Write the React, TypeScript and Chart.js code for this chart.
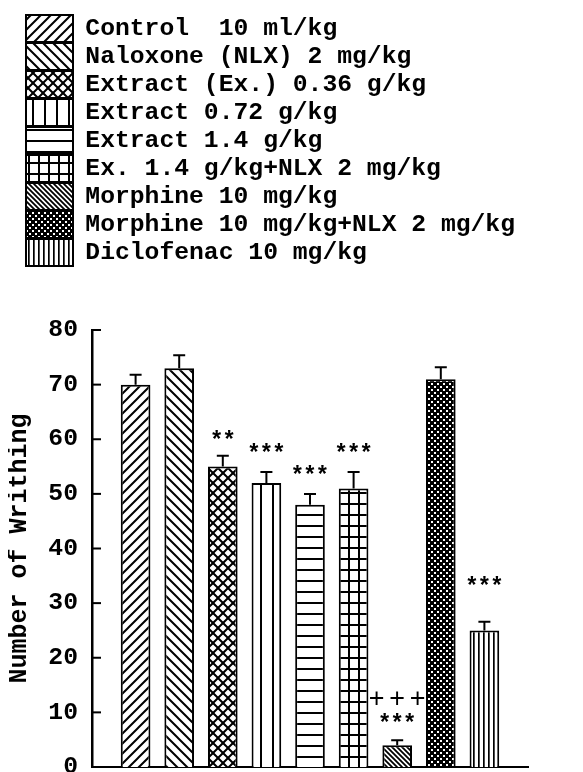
import React, { useEffect, useRef } from 'react';
import { Chart, registerables } from 'chart.js';

Chart.register(...registerables);

const categories = [
  'Control  10 ml/kg',
  'Naloxone (NLX) 2 mg/kg',
  'Extract (Ex.) 0.36 g/kg',
  'Extract 0.72 g/kg',
  'Extract 1.4 g/kg',
  'Ex. 1.4 g/kg+NLX 2 mg/kg',
  'Morphine 10 mg/kg',
  'Morphine 10 mg/kg+NLX 2 mg/kg',
  'Diclofenac 10 mg/kg',
];
const meanWrithing = [70, 73, 55, 52, 48, 51, 4, 71, 25];
const semWrithing = [1.8, 2.4, 2, 2, 2, 3, 0.9, 2.2, 1.6];
const starMarks = ['', '', '**', '***', '***', '***', '***', '', '***'];
const starLevels = [null, null, 60.5, 58, 54, 58, 8.6, null, 33.6];
const plusMarks = ['', '', '', '', '', '', '+++', '', ''];
const plusLevels = [null, null, null, null, null, null, 12.6, null, null];
const yMin = 0;
const yMax = 80;
const yStep = 10;
const yTitle = 'Number of Writhing';
const patternKinds = ['fwd', 'back', 'cross', 'vert', 'horiz', 'grid', 'denseBack', 'dots', 'denseVert'];

const FONT = "'Liberation Mono', 'DejaVu Sans Mono', monospace";

function makeTile(kind: string): HTMLCanvasElement {
  const c = document.createElement('canvas');
  let w = 10, h = 10;
  if (kind === 'vert') { w = 12; h = 12; }
  if (kind === 'horiz') { w = 11; h = 11; }
  if (kind === 'grid') { w = 10; h = 11; }
  if (kind === 'denseBack') { w = 5; h = 5; }
  if (kind === 'dots') { w = 6; h = 6; }
  if (kind === 'denseVert') { w = 5; h = 5; }
  c.width = w; c.height = h;
  const g = c.getContext('2d')!;
  g.fillStyle = '#fff';
  g.fillRect(0, 0, w, h);
  g.strokeStyle = '#000';
  g.lineWidth = 2;
  const fwd = () => {
    g.beginPath();
    g.moveTo(0, h); g.lineTo(w, 0);
    g.moveTo(-1, 1); g.lineTo(1, -1);
    g.moveTo(w - 1, h + 1); g.lineTo(w + 1, h - 1);
    g.stroke();
  };
  const back = () => {
    g.beginPath();
    g.moveTo(0, 0); g.lineTo(w, h);
    g.moveTo(-1, h - 1); g.lineTo(1, h + 1);
    g.moveTo(w - 1, -1); g.lineTo(w + 1, 1);
    g.stroke();
  };
  switch (kind) {
    case 'fwd': fwd(); break;
    case 'back': back(); break;
    case 'cross': fwd(); back(); break;
    case 'vert':
      g.fillStyle = '#000'; g.fillRect(0, 0, 2, h); break;
    case 'horiz':
      g.fillStyle = '#000'; g.fillRect(0, 0, w, 2); break;
    case 'grid':
      g.fillStyle = '#000'; g.fillRect(0, 0, 2, h); g.fillRect(0, 0, w, 2); break;
    case 'denseBack':
      g.lineWidth = 1.8; back(); break;
    case 'dots':
      g.fillStyle = '#000'; g.fillRect(0, 0, w, h);
      g.fillStyle = '#fff';
      g.fillRect(0, 0, 2, 2);
      g.fillRect(3, 3, 2, 2);
      break;
    case 'denseVert':
      g.fillStyle = '#000'; g.fillRect(0, 0, 1.7, h); break;
  }
  return c;
}

const errorBarPlugin = {
  id: 'errorBars',
  afterDatasetsDraw(chart: any) {
    const { ctx } = chart;
    const y = chart.scales.y;
    ctx.save();
    ctx.strokeStyle = '#000';
    ctx.lineWidth = 2;
    chart.data.datasets.forEach((ds: any, i: number) => {
      const el = chart.getDatasetMeta(i).data[0];
      if (!el) return;
      const top = y.getPixelForValue(meanWrithing[i] + semWrithing[i]);
      ctx.beginPath();
      ctx.moveTo(el.x, el.y);
      ctx.lineTo(el.x, top);
      ctx.moveTo(el.x - 6, top);
      ctx.lineTo(el.x + 6, top);
      ctx.stroke();
    });
    ctx.restore();
  },
};

function drawSpaced(ctx: CanvasRenderingContext2D, text: string, cx: number, baseline: number, gap: number) {
  const chars = text.split('');
  chars.forEach((ch, k) => {
    const dx = (k - (chars.length - 1) / 2) * gap;
    ctx.fillText(ch, cx + dx, baseline);
  });
}

const annotationPlugin = {
  id: 'annotations',
  afterDatasetsDraw(chart: any) {
    const { ctx } = chart;
    const y = chart.scales.y;
    ctx.save();
    ctx.fillStyle = '#000';
    ctx.textAlign = 'center';
    ctx.textBaseline = 'alphabetic';
    chart.data.datasets.forEach((ds: any, i: number) => {
      const el = chart.getDatasetMeta(i).data[0];
      if (!el) return;
      if (starMarks[i] && starLevels[i] != null) {
        ctx.font = `bold 23px ${FONT}`;
        drawSpaced(ctx, starMarks[i], el.x, y.getPixelForValue(starLevels[i] as number) + 11, 12.5);
      }
      if (plusMarks[i] && plusLevels[i] != null) {
        ctx.font = `normal 27px ${FONT}`;
        drawSpaced(ctx, plusMarks[i], el.x, y.getPixelForValue(plusLevels[i] as number) + 9, 20.5);
      }
    });
    ctx.restore();
  },
};

const innerTickPlugin = {
  id: 'innerTicks',
  afterDraw(chart: any) {
    const { ctx, chartArea } = chart;
    const y = chart.scales.y;
    ctx.save();
    ctx.strokeStyle = '#000';
    ctx.lineWidth = 2;
    y.ticks.forEach((t: any) => {
      const py = y.getPixelForValue(t.value);
      ctx.beginPath();
      ctx.moveTo(chartArea.left, py);
      ctx.lineTo(chartArea.left + 9, py);
      ctx.stroke();
    });
    ctx.restore();
  },
};

export default function App() {
  const ref = useRef<HTMLCanvasElement>(null);
  useEffect(() => {
    const canvas = ref.current!;
    const ctx = canvas.getContext('2d')!;
    const patterns = patternKinds.map((k) => ctx.createPattern(makeTile(k), 'repeat')!);
    const datasets = categories.map((label, i) => ({
      label,
      data: [{ x: i + 1, y: meanWrithing[i] }],
      backgroundColor: patterns[i],
      borderColor: '#000',
      borderWidth: 2,
      grouped: false,
      categoryPercentage: 1,
      barPercentage: 0.68,
    }));
    const chart = new Chart(canvas, {
      type: 'bar',
      data: { datasets },
      plugins: [errorBarPlugin, annotationPlugin, innerTickPlugin],
      options: {
        animation: false,
        responsive: false,
        devicePixelRatio: 1,
        layout: { padding: { left: 17, right: 47, top: 6, bottom: 31 } },
        plugins: {
          tooltip: { enabled: false },
          legend: {
            position: 'top',
            align: 'start',
            labels: {
              color: '#000',
              font: { family: FONT, size: 24.7, weight: 'bold' },
              boxWidth: 47,
              boxHeight: 27,
              padding: 1,
            },
          },
          title: {
            display: true,
            text: '',
            position: 'top',
            weight: 500,
            font: { size: 1, lineHeight: 1 },
            padding: { top: 53, bottom: 0 },
          },
        },
        scales: {
          x: {
            type: 'linear',
            offset: false,
            min: 0,
            max: categories.length + 1,
            grid: { display: false, drawTicks: false },
            ticks: { display: false },
            border: { display: true, color: '#000', width: 2 },
          },
          y: {
            min: yMin,
            max: yMax,
            afterFit: (scale: any) => { scale.width = 67; },
            ticks: {
              stepSize: yStep,
              color: '#000',
              padding: 14,
              font: { family: FONT, size: 24.7, weight: 'bold' },
            },
            grid: { display: false, drawTicks: false },
            border: { display: true, color: '#000', width: 2.5 },
            title: {
              display: true,
              text: yTitle,
              color: '#000',
              font: { family: FONT, size: 25, weight: 'bold', lineHeight: 1 },
              padding: { top: -17.5, bottom: 0 },
            },
          },
        },
      },
    } as any);
    return () => chart.destroy();
  }, []);
  return <canvas ref={ref} width={567} height={790} style={{ display: 'block' }} />;
}
